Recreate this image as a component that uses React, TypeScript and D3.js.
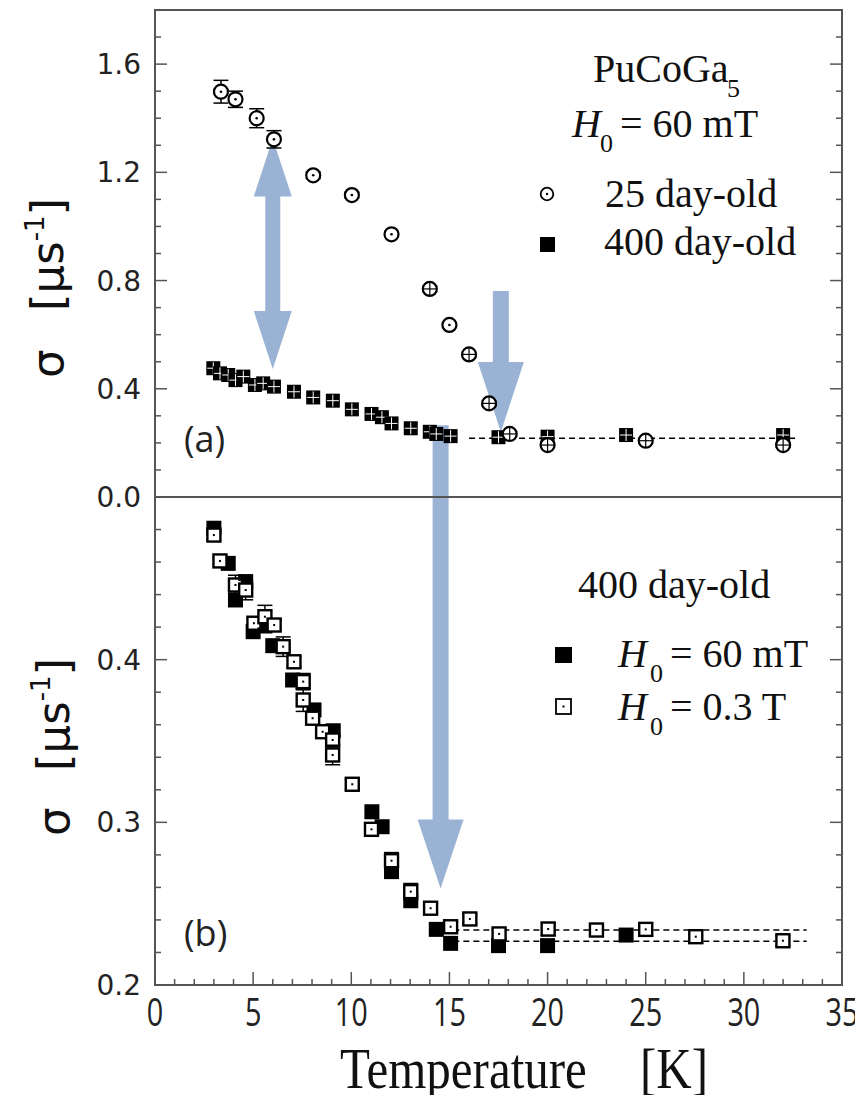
import React from "react";
import * as d3 from "d3";

// ---- Panel (a): PuCoGa5, H0 = 60 mT ----
const tempA25 = [3.36, 4.1, 5.18, 6.06, 8.06, 10.03, 12.05, 14.0, 15.0, 16.0, 17.02, 18.07, 20.0, 25.0, 32.0];
const sigmaA25 = [1.498, 1.47, 1.4, 1.322, 1.189, 1.116, 0.971, 0.769, 0.636, 0.527, 0.346, 0.233, 0.192, 0.208, 0.192];
const errA25 = [0.042, 0.03, 0.035, 0.032, 0.012, 0.01, 0.01, 0.01, 0.008, 0.008, 0.008, 0.008, 0.008, 0.008, 0.008];
const crossA25 = [false, false, false, false, false, false, false, true, false, true, true, true, true, true, true];

const tempA400 = [2.97, 3.31, 3.73, 4.1, 4.5, 5.09, 5.51, 6.06, 7.08, 8.06, 9.06, 10.03, 11.03, 11.56, 12.05, 13.03, 14.0, 14.33, 15.06, 17.5, 20.0, 24.0, 32.0];
const sigmaA400 = [0.476, 0.457, 0.451, 0.432, 0.445, 0.414, 0.42, 0.408, 0.389, 0.368, 0.356, 0.324, 0.307, 0.295, 0.272, 0.254, 0.241, 0.233, 0.225, 0.221, 0.223, 0.229, 0.229];

const dashA = { level: 0.217, from: 16.0, to: 32.7 };

// ---- Panel (b): 400 day-old ----
const tempB60 = [3.0, 3.73, 4.1, 4.62, 5.0, 5.6, 6.0, 7.01, 8.1, 9.08, 11.05, 11.57, 12.05, 13.03, 14.33, 15.06, 17.5, 20.0, 24.0];
const sigmaB60 = [0.4808, 0.4592, 0.4367, 0.448, 0.4172, 0.4207, 0.4086, 0.3875, 0.3691, 0.3563, 0.3065, 0.2973, 0.2697, 0.2518, 0.2342, 0.2256, 0.2242, 0.2242, 0.2307];

const tempB03 = [3.0, 3.31, 4.1, 4.62, 5.04, 5.6, 6.07, 6.53, 7.08, 7.55, 7.55, 8.03, 8.54, 9.05, 9.05, 10.05, 11.03, 12.05, 13.03, 14.04, 15.06, 16.04, 17.53, 20.03, 22.49, 25.0, 27.55, 31.99];
const sigmaB03 = [0.4766, 0.4607, 0.4459, 0.4428, 0.4224, 0.4264, 0.4213, 0.408, 0.3987, 0.3865, 0.3752, 0.364, 0.3557, 0.3506, 0.3414, 0.3234, 0.2957, 0.2764, 0.2574, 0.2472, 0.2358, 0.2406, 0.2314, 0.2344, 0.2338, 0.2342, 0.2297, 0.2272];
const errB03 = [0.003, 0.002, 0.006, 0.006, 0.003, 0.007, 0.003, 0.006, 0.003, 0.005, 0.007, 0.003, 0.003, 0.003, 0.006, 0.003, 0.003, 0.005, 0.005, 0.003, 0.003, 0.003, 0.003, 0.004, 0.003, 0.004, 0.004, 0.003];

const dashB60 = { level: 0.2269, from: 15.2, to: 33.2 };
const dashB03 = { level: 0.2338, from: 15.2, to: 33.2 };

// ticks
const xMajor = [0, 5, 10, 15, 20, 25, 30, 35];
const yAMajor = [0.0, 0.4, 0.8, 1.2, 1.6];
const yBMajor = [0.2, 0.3, 0.4];

// annotation arrows (data units)
const arrowDouble = { t: 6.0, top: 1.325, bottom: 0.473 };
const arrowShort = { t: 17.62, from: 0.761, to: 0.24 };
const arrowLong = { t: 14.55, fromA: 0.265, toB: 0.2593 };

const W = 863;
const H = 1103;
const L = 155, R = 842;
const yTop = 10, yMid = 497, yBot = 985;

const ARROW = "#9ab3d5";
const FRAME = "#555";

function vArrow(x: number, y0: number, yTip: number, shaftHW: number, headHW: number, headLen: number) {
  const yb = yTip - headLen;
  return `M${x - shaftHW},${y0} L${x + shaftHW},${y0} L${x + shaftHW},${yb} L${x + headHW},${yb} L${x},${yTip} L${x - headHW},${yb} L${x - shaftHW},${yb} Z`;
}
function dArrow(x: number, yT: number, yB: number, shaftHW: number, headHW: number, headLen: number) {
  return `M${x},${yT} L${x + headHW},${yT + headLen} L${x + shaftHW},${yT + headLen} L${x + shaftHW},${yB - headLen} L${x + headHW},${yB - headLen} L${x},${yB} L${x - headHW},${yB - headLen} L${x - shaftHW},${yB - headLen} L${x - shaftHW},${yT + headLen} L${x - headHW},${yT + headLen} Z`;
}

export default function App() {
  const x = d3.scaleLinear().domain([0, 35]).range([L, R]);
  const yA = d3.scaleLinear().domain([0, 1.8]).range([yMid, yTop]);
  const yB = d3.scaleLinear().domain([0.2, 0.5]).range([yBot, yMid]);

  const xMinor = d3.range(0, 36, 1);
  const yAMinor = d3.range(0, 1.8001, 0.1);
  const yBMinor = d3.range(0.2, 0.5001, 0.02);

  const serif = "'Liberation Serif', 'Times New Roman', serif";
  const sans = "'DejaVu Sans', Verdana, sans-serif";
  const sans2 = "'Open Sans', sans-serif";

  const sq = 15;

  return (
    <svg width={W} height={H} viewBox={`0 0 ${W} ${H}`} style={{ display: "block", margin: -8 }}>
      <rect width={W} height={H} fill="#fff" />

      {/* arrows (beneath data) */}
      <path d={dArrow(x(arrowDouble.t), yA(arrowDouble.top), yA(arrowDouble.bottom), 7.5, 19, 58)} fill={ARROW} />
      <path d={vArrow(x(arrowShort.t), yA(arrowShort.from), yA(arrowShort.to), 8, 23, 70)} fill={ARROW} />
      <path d={vArrow(x(arrowLong.t), yA(arrowLong.fromA), yB(arrowLong.toB), 8, 23, 69)} fill={ARROW} />

      {/* dashed lines */}
      <line x1={x(dashA.from)} x2={x(dashA.to)} y1={yA(dashA.level)} y2={yA(dashA.level)} stroke="#000" strokeWidth={1.4} strokeDasharray="6,4" />
      <line x1={x(dashB60.from)} x2={x(dashB60.to)} y1={yB(dashB60.level)} y2={yB(dashB60.level)} stroke="#000" strokeWidth={1.4} strokeDasharray="6,4" />
      <line x1={x(dashB03.from)} x2={x(dashB03.to)} y1={yB(dashB03.level)} y2={yB(dashB03.level)} stroke="#000" strokeWidth={1.4} strokeDasharray="6,4" />

      {/* Panel a: 400 day-old filled squares */}
      {tempA400.map((t, i) => {
        const cx = x(t), cy = yA(sigmaA400[i]);
        return (
          <g key={"a400" + i}>
            <rect x={cx - 7} y={cy - 7} width={14} height={14} fill="#000" />
            <line x1={cx - 6} x2={cx + 6} y1={cy} y2={cy} stroke="#fff" strokeWidth={1} />
            <line x1={cx} x2={cx} y1={cy - 6} y2={cy + 6} stroke="#fff" strokeWidth={1} />
          </g>
        );
      })}

      {/* Panel a: 25 day-old open circles */}
      {tempA25.map((t, i) => {
        const cx = x(t), cy = yA(sigmaA25[i]);
        const e1 = yA(sigmaA25[i] + errA25[i]), e2 = yA(sigmaA25[i] - errA25[i]);
        return (
          <g key={"a25" + i}>
            <line x1={cx} x2={cx} y1={e1} y2={e2} stroke="#000" strokeWidth={1.5} />
            <line x1={cx - 7.5} x2={cx + 7.5} y1={e1} y2={e1} stroke="#000" strokeWidth={1.5} />
            <line x1={cx - 7.5} x2={cx + 7.5} y1={e2} y2={e2} stroke="#000" strokeWidth={1.5} />
            <circle cx={cx} cy={cy} r={7} fill="#fff" stroke="#000" strokeWidth={2.2} />
            {crossA25[i] ? (
              <g stroke="#000" strokeWidth={1.2}>
                <line x1={cx - 6.5} x2={cx + 6.5} y1={cy} y2={cy} />
                <line x1={cx} x2={cx} y1={cy - 6.5} y2={cy + 6.5} />
              </g>
            ) : (
              <circle cx={cx} cy={cy} r={1.3} fill="#000" />
            )}
          </g>
        );
      })}

      {/* Panel b: 60 mT filled squares */}
      {tempB60.map((t, i) => {
        const cx = x(t), cy = yB(sigmaB60[i]);
        return <rect key={"b60" + i} x={cx - sq / 2} y={cy - sq / 2} width={sq} height={sq} fill="#000" />;
      })}

      {/* Panel b: 0.3 T open squares */}
      {tempB03.map((t, i) => {
        const cx = x(t), cy = yB(sigmaB03[i]);
        const e1 = yB(sigmaB03[i] + errB03[i]), e2 = yB(sigmaB03[i] - errB03[i]);
        return (
          <g key={"b03" + i}>
            <line x1={cx} x2={cx} y1={e1} y2={e2} stroke="#000" strokeWidth={1.5} />
            <line x1={cx - 7.5} x2={cx + 7.5} y1={e1} y2={e1} stroke="#000" strokeWidth={1.5} />
            <line x1={cx - 7.5} x2={cx + 7.5} y1={e2} y2={e2} stroke="#000" strokeWidth={1.5} />
            <rect x={cx - 6.5} y={cy - 6.5} width={13} height={13} fill="#fff" stroke="#000" strokeWidth={2.4} />
            <rect x={cx - 1} y={cy - 1} width={2} height={2} fill="#000" />
          </g>
        );
      })}

      {/* frame */}
      <g stroke={FRAME} fill="none">
        <rect x={L} y={yTop} width={R - L} height={yBot - yTop} strokeWidth={2} />
        <line x1={L} x2={R} y1={yMid} y2={yMid} strokeWidth={2} />
      </g>

      {/* x ticks (bottom) */}
      <g stroke={FRAME} strokeWidth={1.5}>
        {xMinor.map((t) => {
          const major = t % 5 === 0;
          return <line key={"xt" + t} x1={x(t)} x2={x(t)} y1={yBot} y2={yBot - (major ? 13 : 6)} />;
        })}
      </g>
      {xMajor.map((t) => (
        <text key={"xl" + t} transform={`translate(${x(t)},1026) scale(0.8,1.05)`} textAnchor="middle" fontFamily={sans2} fontSize={36} fill="#222">
          {t}
        </text>
      ))}

      {/* y ticks */}
      <g stroke={FRAME} strokeWidth={1.5}>
        {yAMinor.map((v, i) => {
          const major = i % 4 === 0;
          const len = major ? 12 : 6;
          const yy = yA(v);
          return (
            <g key={"yat" + i}>
              <line x1={L} x2={L + len} y1={yy} y2={yy} />
              <line x1={R} x2={R - len} y1={yy} y2={yy} />
            </g>
          );
        })}
        {yBMinor.map((v, i) => {
          const major = i % 5 === 0;
          const len = major ? 12 : 6;
          const yy = yB(v);
          return (
            <g key={"ybt" + i}>
              <line x1={L} x2={L + len} y1={yy} y2={yy} />
              <line x1={R} x2={R - len} y1={yy} y2={yy} />
            </g>
          );
        })}
      </g>
      {yAMajor.map((v) => (
        <text key={"yal" + v} x={141} y={yA(v) + 10} textAnchor="end" fontFamily={sans} fontSize={28} fill="#222">
          {d3.format(".1f")(v)}
        </text>
      ))}
      {yBMajor.map((v) => (
        <text key={"ybl" + v} x={141} y={yB(v) + 10} textAnchor="end" fontFamily={sans} fontSize={28} fill="#222">
          {d3.format(".1f")(v)}
        </text>
      ))}

      {/* y axis titles */}
      <g fontFamily={sans} fontSize={45} fill="#111">
        <text transform="translate(63,378) rotate(-90)">σ</text>
        <text transform="translate(63,311) rotate(-90)">
          [μs<tspan dy={-19} fontSize={26}>-1</tspan><tspan dy={19}>]</tspan>
        </text>
        <text transform="translate(69,836) rotate(-90)">σ</text>
        <text transform="translate(69,771) rotate(-90)">
          [μs<tspan dy={-19} fontSize={26}>-1</tspan><tspan dy={19}>]</tspan>
        </text>
      </g>

      {/* x axis title */}
      <g transform="translate(0,1088) scale(1,1.18)" fontFamily={serif} fontSize={49} fill="#111">
        <text x={340} y={0}>Temperature</text>
        <text x={640} y={0}>[K]</text>
      </g>

      {/* panel labels */}
      <text x={184} y={452} fontFamily={sans2} fontSize={36} fill="#222">(a)</text>
      <text x={184} y={946} fontFamily={sans2} fontSize={36} fill="#222">(b)</text>

      {/* panel a legend */}
      <g fontFamily={serif} fontSize={40} fill="#111">
        <text x={593} y={82}>PuCoGa</text>
        <text x={727} y={97} fontSize={26}>5</text>
        <text x={572} y={137} fontStyle="italic">H</text>
        <text x={600} y={152} fontSize={26}>0</text>
        <text x={620} y={137}>= 60 mT</text>
        <text x={605} y={207}>25 day-old</text>
        <text x={604} y={255}>400 day-old</text>
      </g>
      <circle cx={547} cy={194} r={6.3} fill="#fff" stroke="#000" strokeWidth={1.8} />
      <circle cx={547} cy={194} r={1.2} fill="#000" />
      <rect x={540} y={237} width={15} height={15} fill="#000" />

      {/* panel b legend */}
      <g fontFamily={serif} fontSize={40} fill="#111">
        <text x={578} y={598}>400 day-old</text>
        <text x={618} y={667} fontStyle="italic">H</text>
        <text x={650} y={682} fontSize={26}>0</text>
        <text x={670} y={667}>= 60 mT</text>
        <text x={618} y={720} fontStyle="italic">H</text>
        <text x={650} y={735} fontSize={26}>0</text>
        <text x={670} y={720}>= 0.3 T</text>
      </g>
      <rect x={555} y={647} width={17} height={16} fill="#000" />
      <rect x={556} y={699} width={15} height={15} fill="#fff" stroke="#000" strokeWidth={1.8} />
      <rect x={562.5} y={705.5} width={2} height={2} fill="#000" />
    </svg>
  );
}
